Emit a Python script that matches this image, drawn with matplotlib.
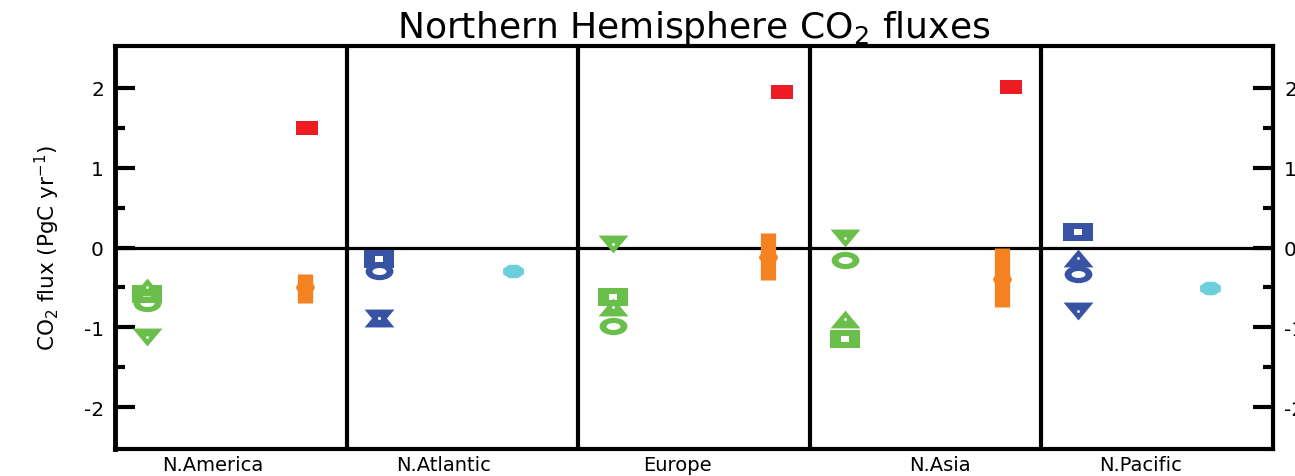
import numpy as np
import matplotlib
matplotlib.use("Agg")
import matplotlib.pyplot as plt
from matplotlib.path import Path

plt.rcParams["font.family"] = ["DejaVu Sans"]
plt.rcParams["axes.unicode_minus"] = False

# regions and where their names sit along the x axis
regions = ["N.America", "N.Atlantic", "Europe", "N.Asia", "N.Pacific"]
region_pos = [0.42, 1.42, 2.43, 3.56, 4.43]

# land estimates (green), one column per land region
green_x = [0.14, 2.15, 3.15]
green_up = [-0.50, -0.74, -0.89]
green_square = [-0.58, -0.62, -1.15]
green_circle = [-0.70, -0.98, -0.16]
green_down = [-1.12, 0.04, 0.12]

# ocean estimates (blue)
blue_x = [1.14, 4.16]
blue_up = [-0.88, -0.13]
blue_square = [-0.15, 0.20]
blue_circle = [-0.29, -0.33]
blue_down = [-0.88, -0.80]

# ranges with central value (orange)
orange_x = [0.82, 2.82, 3.83]
orange_lo = [-0.69, -0.41, -0.74]
orange_hi = [-0.33, 0.18, -0.01]
orange_mid = [-0.50, -0.12, -0.39]

# fossil emissions (red)
red_x = [0.83, 2.88, 3.87]
red_y = [1.50, 1.94, 2.01]

# ocean values (cyan)
cyan_x = [1.72, 4.73]
cyan_y = [-0.30, -0.51]

GREEN = "#6abf4b"
BLUE = "#3953a4"
RED = "#ed1c24"
ORANGE = "#f58220"
CYAN = "#6dcfdc"


def wide(verts, sx, codes=None):
    # marker shape stretched sideways
    v = np.asarray(verts, dtype=float) * [sx, 1.0]
    return Path(v, codes)


sq_verts = [(-1, -1), (1, -1), (1, 1), (-1, 1), (-1, -1)]
SQUARE = wide(sq_verts, 1.6)
RECT = wide(sq_verts, 1.57)
CIRCLE = wide(Path.unit_circle().vertices, 1.6, Path.unit_circle().codes)
INNER_CIRCLE = wide(Path.unit_circle().vertices, 2.0, Path.unit_circle().codes)
UP = wide([(0, 1), (-1, -1), (1, -1), (0, 1)], 1.67)
DOWN = wide([(0, -1), (-1, 1), (1, 1), (0, -1)], 1.67)
ang = np.linspace(0, 2 * np.pi, 9) + np.pi / 8
OCT = wide(np.c_[np.cos(ang), np.sin(ang)], 1.55)


def mark(ax, x, y, shape, size, color, z=3):
    ax.plot(x, y, ls="none", marker=shape, ms=size, mfc=color, mew=0, zorder=z)


def ring_square(ax, x, y, color, z):
    mark(ax, x, y, SQUARE, 21, color, z)
    mark(ax, x, y, SQUARE, 6, "white", z + 0.1)


def ring_circle(ax, x, y, color, z):
    mark(ax, x, y, CIRCLE, 20, color, z)
    mark(ax, x, y, INNER_CIRCLE, 10, "white", z + 0.1)


def triangle(ax, x, y, shape, color, z):
    mark(ax, x, y, shape, 21.5, color, z)
    mark(ax, x, y, "o", 2, "white", z + 0.1)


fig = plt.figure(figsize=(12.95, 4.77), dpi=100)
ax = fig.add_axes([115 / 1295, 27 / 477, 1158 / 1295, 403 / 477])

ax.set_xlim(0, 5)
ax.set_ylim(-2.52, 2.52)

# zero line and region dividers
ax.axhline(0, color="black", lw=2.3, zorder=2)
for d in range(1, 5):
    ax.axvline(d, color="black", lw=3, zorder=2)

# green land symbols
ring_circle(ax, green_x, green_circle, GREEN, 3)
ring_square(ax, green_x, green_square, GREEN, 4)
triangle(ax, green_x, green_up, UP, GREEN, 5)
triangle(ax, green_x, green_down, DOWN, GREEN, 5)

# blue ocean symbols
ring_circle(ax, blue_x, blue_circle, BLUE, 3)
ring_square(ax, blue_x, blue_square, BLUE, 4)
triangle(ax, blue_x, blue_up, UP, BLUE, 5)
triangle(ax, blue_x, blue_down, DOWN, BLUE, 5)

# orange ranges
for x, lo, hi in zip(orange_x, orange_lo, orange_hi):
    ax.plot([x, x], [lo, hi], color=ORANGE, lw=11, solid_capstyle="butt", zorder=3)
mark(ax, orange_x, orange_mid, CIRCLE, 13.5, ORANGE, 4)

mark(ax, red_x, red_y, RECT, 16, RED, 3)
mark(ax, cyan_x, cyan_y, OCT, 15, CYAN, 3)

# axes frame
for side in ["left", "right", "top", "bottom"]:
    ax.spines[side].set_linewidth(3)
ax.spines["left"].set_linewidth(3.5)

ax.set_yticks([-2, -1, 0, 1, 2])
ax.set_yticks([-1.5, -0.5, 0.5, 1.5], minor=True)
ax.tick_params(axis="y", which="major", direction="in", length=14.5, width=3,
               labelsize=14.5, pad=8, right=True, labelright=True)
ax.tick_params(axis="y", which="minor", direction="in", length=7, width=3, right=True)

ax.set_xticks(region_pos)
ax.set_xticklabels(regions)
ax.tick_params(axis="x", length=0, labelsize=14, pad=4)

ax.set_ylabel("CO$_2$ flux (PgC yr$^{-1}$)", fontsize=15.5, labelpad=16)
ax.set_title("Northern Hemisphere CO$_2$ fluxes", fontsize=26, pad=5)

fig.savefig("out.png", dpi=100)
